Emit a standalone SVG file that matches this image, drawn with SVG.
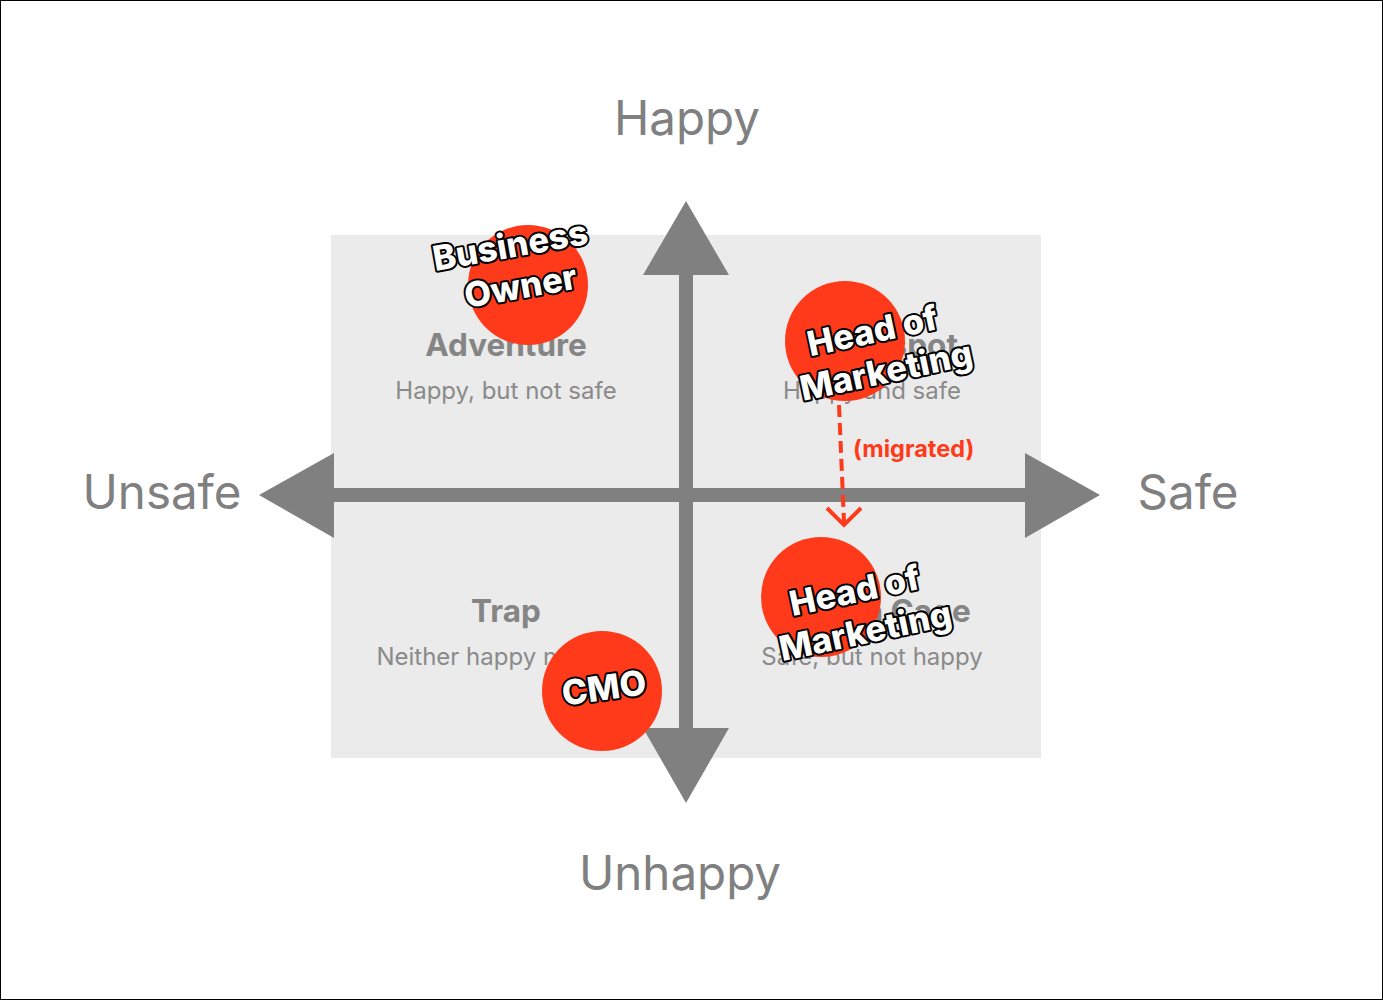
<svg xmlns="http://www.w3.org/2000/svg" width="1383" height="1000" viewBox="0 0 1383 1000">
<style>
.axis{font-family:Inter,"Liberation Sans",sans-serif;font-size:47.5px;fill:#808080;text-anchor:middle}
.qt{font-family:Inter,"Liberation Sans",sans-serif;font-size:31.5px;font-weight:700;fill:#858585;text-anchor:middle}
.qs{font-family:Inter,"Liberation Sans",sans-serif;font-size:24px;fill:#8a8a8a;text-anchor:middle}
.dot{fill:#ff3a1a}
.lbl{font-family:Inter,"Liberation Sans",sans-serif;font-size:34.5px;font-weight:800;fill:#fff;stroke:#000;stroke-width:4px;stroke-linejoin:round;paint-order:stroke;text-anchor:middle}
.ax{fill:#808080}
.mig{fill:none;stroke:#ff3a1a;stroke-width:4;stroke-linecap:butt}
</style>
<rect x="0.5" y="0.5" width="1382" height="999" fill="#fff" stroke="#000" stroke-width="1"/>
<rect id="panel" x="331" y="235" width="710" height="523" fill="#ebebeb"/>
<g id="quadrants">
<g id="q-adventure"><text class="qt" x="506" y="356">Adventure</text><text class="qs" x="506" y="399">Happy, but not safe</text></g>
<g id="q-sweet"><text class="qt" x="872" y="356">Sweet spot</text><text class="qs" x="872" y="399">Happy and safe</text></g>
<g id="q-trap"><text class="qt" x="506" y="622">Trap</text><text class="qs" x="506" y="665">Neither happy nor safe</text></g>
<g id="q-cage"><text class="qt" x="872" y="622">Golden Cage</text><text class="qs" x="872" y="665">Safe, but not happy</text></g>
</g>
<g id="axes">
<rect class="ax" x="332" y="488" width="696" height="14"/>
<polygon class="ax" points="259,495 334,453 334,538"/>
<polygon class="ax" points="1100,495 1025,453 1025,538"/>
<rect class="ax" x="679" y="272" width="14" height="460"/>
<polygon class="ax" points="686,201 643,275 729,275"/>
<polygon class="ax" points="686,803 643,728 729,728"/>
</g>
<g id="axis-labels">
<text class="axis" x="687" y="135">Happy</text>
<text class="axis" x="680" y="890">Unhappy</text>
<text class="axis" x="162" y="509">Unsafe</text>
<text class="axis" x="1188" y="509">Safe</text>
</g>
<g id="connectors">
<path class="mig" d="M839,405 L844,522" stroke-dasharray="12,6"/>
<path class="mig" d="M827,508 L844,525 L861,508"/>
<text x="853" y="457" font-family="Inter,'Liberation Sans',sans-serif" font-size="23.5" font-weight="700" fill="#ff3a1a">(migrated)</text>
</g>
<g id="business-owner">
<circle class="dot" cx="528" cy="285" r="60"/>
<g transform="rotate(-10 515 266)"><text class="lbl" x="514" y="257">Business</text><text class="lbl" x="517" y="299">Owner</text></g>
</g>
<g id="head-marketing-1">
<circle class="dot" cx="845" cy="341" r="60"/>
<g transform="rotate(-12 879 352)"><text class="lbl" x="877" y="342">Head of</text><text class="lbl" x="882" y="384">Marketing</text></g>
</g>
<g id="head-marketing-2">
<circle class="dot" cx="821" cy="597" r="60"/>
<g transform="rotate(-12 860 611)"><text class="lbl" x="859" y="602">Head of</text><text class="lbl" x="861" y="644">Marketing</text></g>
</g>
<g id="cmo">
<circle class="dot" cx="602" cy="691" r="60"/>
<g transform="rotate(-8 604 688)"><text class="lbl" x="604" y="700">CMO</text></g>
</g>
</svg>
